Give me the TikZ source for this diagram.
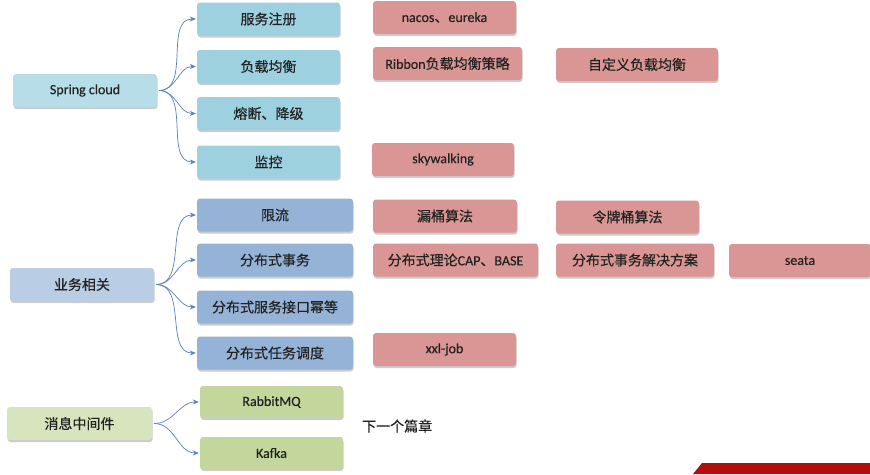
\documentclass[tikz,border=0pt]{standalone}
\usepackage{fontspec}
\setmainfont{Carlito}[FakeBold=0.4]
\newfontfamily\cjk{Noto Sans CJK SC}[FakeBold=0.4]
\usetikzlibrary{shadows,arrows.meta}
\definecolor{tealA}{HTML}{9DD1DF}
\definecolor{tealB}{HTML}{B7DEE8}
\definecolor{blueA}{HTML}{95B3D7}
\definecolor{blueB}{HTML}{B9CDE5}
\definecolor{greenA}{HTML}{C3D69B}
\definecolor{greenB}{HTML}{D7E4BD}
\definecolor{pinkA}{HTML}{D99694}
\definecolor{arrowc}{HTML}{5A7EBE}
\definecolor{txt}{HTML}{222222}
\definecolor{bandred}{HTML}{B20E0E}
\tikzset{
  bx/.style={rounded corners=3pt, minimum height=33pt, inner sep=0pt, text=txt,
    font=\fontsize{14pt}{16pt}\selectfont,
    drop shadow={shadow xshift=0.6pt, shadow yshift=-2pt, fill=black, opacity=0.2}},
  tl/.style={bx, fill=tealA},
  tlroot/.style={bx, fill=tealB},
  bl/.style={bx, fill=blueA},
  blroot/.style={bx, fill=blueB},
  gr/.style={bx, fill=greenA},
  grroot/.style={bx, fill=greenB},
  pk/.style={bx, fill=pinkA},
  arr/.style={draw=arrowc, line width=0.7pt, -{Stealth[length=6pt,width=5pt]}},
}
\begin{document}
\begin{tikzpicture}[x=1pt,y=-1pt]
\useasboundingbox (0,0) rectangle (870,474);
\fill[white] (0,0) rectangle (870,474);
% group 1
\node[tlroot, minimum width=144pt] (sc) at (85,90.5) {Spring cloud};
\node[tl, minimum width=143pt] (a1) at (268.5,19) {\cjk 服务注册};
\node[tl, minimum width=143pt] (a2) at (268.5,66.5) {\cjk 负载均衡};
\node[tl, minimum width=143pt] (a3) at (268.5,113.5) {\cjk 熔断、降级};
\node[tl, minimum width=143pt] (a4) at (268.5,162) {\cjk 监控};
\node[pk, minimum width=143pt] (p1) at (444.5,17.5) {nacos{\cjk 、}eureka};
\node[pk, minimum width=149pt] (p2) at (447.5,63.5) {Ribbon{\cjk 负载均衡策略}};
\node[pk, minimum width=162pt] (p3) at (637,64.5) {\cjk 自定义负载均衡};
\node[pk, minimum width=142pt] (p4) at (443,159.5) {skywalking};
% group 2
\node[blroot, minimum width=144pt] (ys) at (82,284.5) {\cjk 业务相关};
\node[bl, minimum width=156pt] (b1) at (275,215) {\cjk 限流};
\node[bl, minimum width=156pt] (b2) at (275,260) {\cjk 分布式事务};
\node[bl, minimum width=156pt] (b3) at (275,307) {\cjk 分布式服务接口幂等};
\node[bl, minimum width=156pt] (b4) at (275,353) {\cjk 分布式任务调度};
\node[pk, minimum width=144pt] (q1) at (445,216) {\cjk 漏桶算法};
\node[pk, minimum width=143pt] (q2) at (627.5,217) {\cjk 令牌桶算法};
\node[pk, minimum width=165pt] (q3) at (455.5,260) {{\cjk 分布式理论}CAP{\cjk 、}BASE};
\node[pk, minimum width=158pt] (q4) at (635,260) {\cjk 分布式事务解决方案};
\node[pk, minimum width=142pt] (q5) at (800,260.5) {seata};
\node[pk, minimum width=143pt] (q6) at (444.5,349.5) {xxl-job};
% group 3
\node[grroot, minimum width=145pt] (mq) at (79.5,423.5) {\cjk 消息中间件};
\node[gr, minimum width=143pt, minimum height=32pt] (r1) at (271.5,402) {RabbitMQ};
\node[gr, minimum width=143pt, minimum height=32pt] (r2) at (271.5,453) {Kafka};
\node[text=txt, font=\fontsize{14pt}{16pt}\selectfont\cjk, anchor=west, inner sep=0pt] (nx) at (362,426) {下一个篇章};
% arrows
\foreach \t in {a1,a2,a3,a4} \draw[arr] ([xshift=2pt]sc.east) to[out=0,in=180] ([xshift=-1pt]\t.west);
\foreach \t in {b1,b2,b3,b4} \draw[arr] ([xshift=2pt]ys.east) to[out=0,in=180] ([xshift=-1pt]\t.west);
\foreach \t in {r1,r2} \draw[arr] ([xshift=2pt]mq.east) to[out=0,in=180] ([xshift=-1pt]\t.west);
% bottom band
\fill[bandred] (693,474) -- (702,463) -- (870,463) -- (870,474) -- cycle;
\end{tikzpicture}
\end{document}
